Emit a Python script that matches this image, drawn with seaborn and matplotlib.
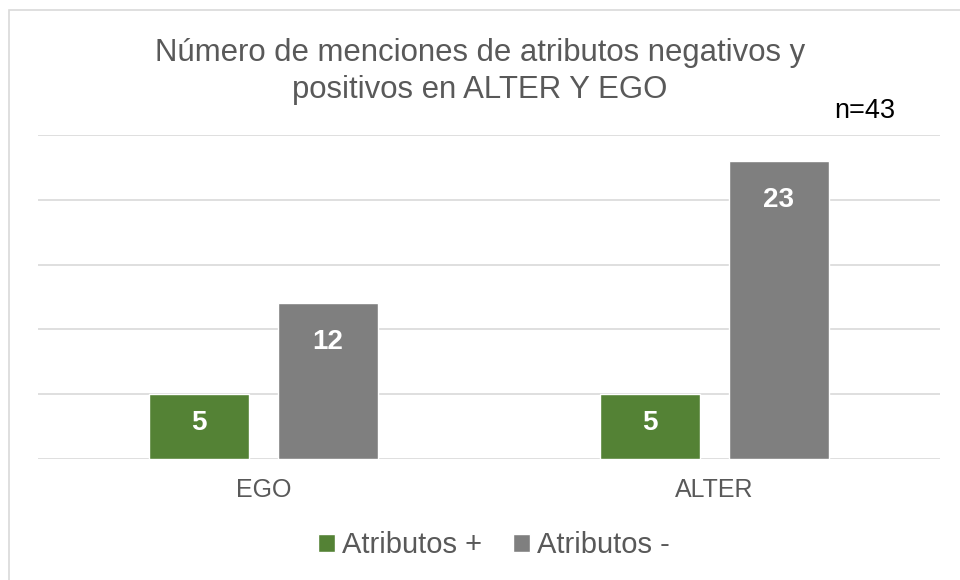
import matplotlib
matplotlib.use("Agg")
import matplotlib.pyplot as plt
import seaborn as sns
import pandas as pd
from matplotlib.patches import Rectangle

categories = ["EGO", "ALTER"]
series_names = ["Atributos +", "Atributos -"]
pos_values = [5, 5]        # Atributos +
neg_values = [12, 23]      # Atributos -
title = "Número de menciones de atributos negativos y\npositivos en ALTER Y EGO"
note = "n=43"
colors = ["#548235", "#7F7F7F"]

df = pd.DataFrame({
    "cat": categories * 2,
    "serie": [series_names[0]] * len(categories) + [series_names[1]] * len(categories),
    "val": pos_values + neg_values,
})

sns.set_theme(style="white")
plt.rcParams["font.family"] = ["Liberation Sans", "DejaVu Sans"]

fig = plt.figure(figsize=(9.6, 5.8), dpi=100)
W, H = 960, 580
ax = fig.add_axes([38 / W, 1 - 459 / H, (940 - 38) / W, (459 - 135) / H])

sns.barplot(data=df, x="cat", y="val", hue="serie", hue_order=series_names,
            order=categories, palette=colors, width=0.572, gap=0.224,
            saturation=1, ax=ax, legend=True)

ax.set_ylim(0, 25)
ax.set_yticks([0, 5, 10, 15, 20, 25])
ax.set_yticklabels([])
ax.grid(axis="y", color="#D9D9D9", linewidth=1.2)
ax.set_axisbelow(True)
for s in ax.spines.values():
    s.set_visible(False)
ax.tick_params(axis="both", length=0)
ax.tick_params(axis="x", labelsize=18, labelcolor="#595959", pad=14)
ax.set_xlabel("")
ax.set_ylabel("")

# bar value labels inside end
for patch in ax.patches:
    h = patch.get_height()
    if h <= 0:
        continue
    x = patch.get_x() + patch.get_width() / 2
    y0 = ax.transData.transform((x, 0))[1]
    y1 = ax.transData.transform((x, h))[1]
    off = min(39, 0.44 * (y1 - y0))
    ax.annotate(f"{int(round(h))}", xy=(x, h), xytext=(0, -off),
                textcoords="offset pixels", ha="center", va="center",
                color="white", fontsize=20, fontweight="bold")

handles, labels = ax.get_legend_handles_labels()
ax.legend_.remove()
fig.legend(handles, labels, loc="center", bbox_to_anchor=(494 / W, 1 - 545 / H),
           ncol=2, frameon=False, fontsize=21, handlelength=0.58,
           handleheight=0.58, handletextpad=0.25, columnspacing=1.05,
           labelcolor="#595959", borderaxespad=0, borderpad=0)

fig.text(0.5, 1 - 71.5 / H, title, ha="center", va="center", fontsize=22.4,
         color="#595959", linespacing=1.32)
fig.text(865 / W, 1 - 111 / H, note, ha="center", va="center", fontsize=19.5,
         color="black")

fig.patches.append(Rectangle((9 / W, -0.05), 1.1, 1 - 10 / H + 0.05,
                             transform=fig.transFigure, fill=False,
                             edgecolor="#D9D9D9", linewidth=1.2))

fig.savefig("out.png", dpi=100)
